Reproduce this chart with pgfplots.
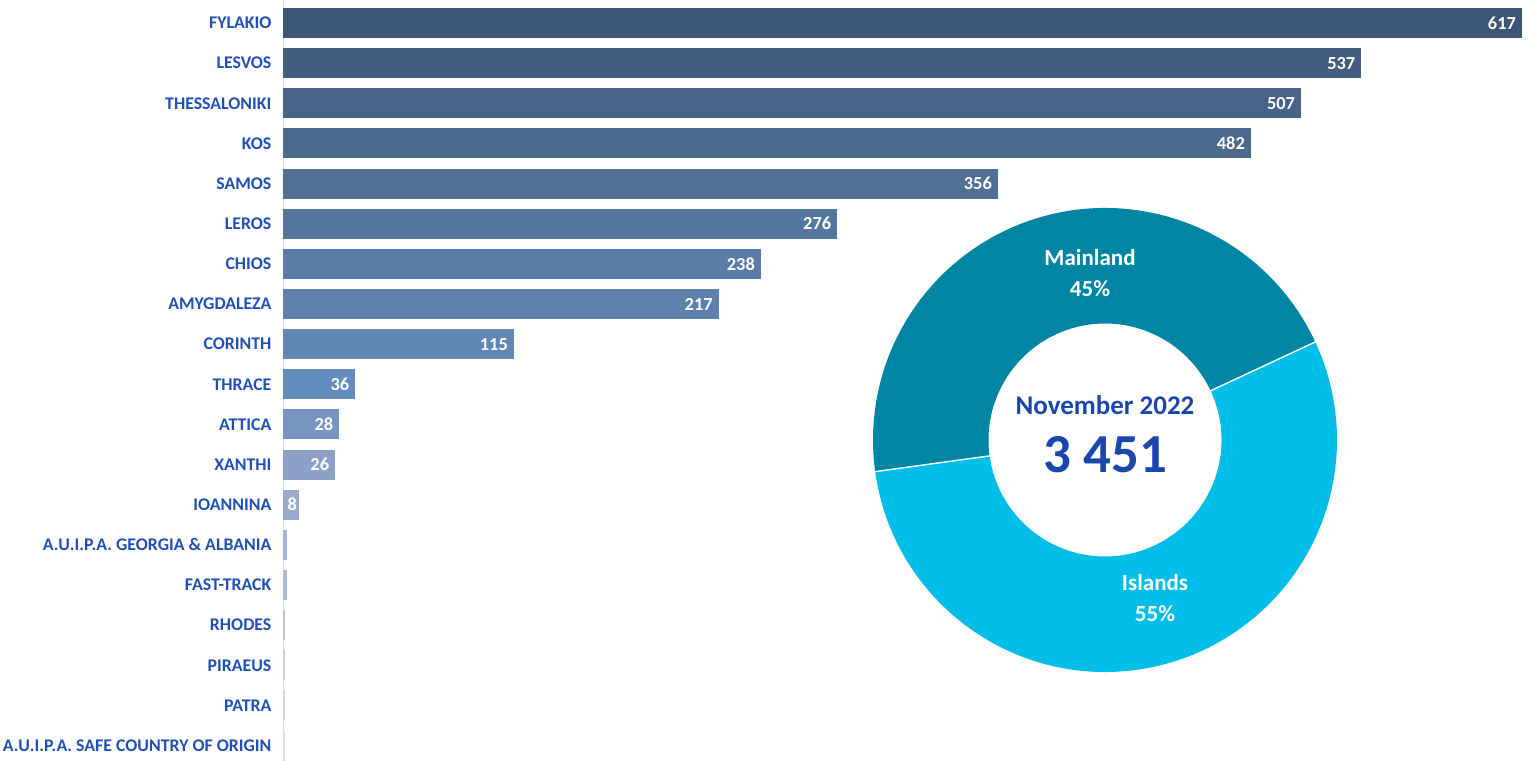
\documentclass[border=0pt]{standalone}
\usepackage{fontspec}
\setmainfont{Carlito}
\usepackage{pgfplots}
\pgfplotsset{compat=1.18}

\definecolor{lbl}{RGB}{33,80,180}
\definecolor{ctr}{RGB}{26,70,174}
\definecolor{mainland}{RGB}{0,134,164}
\definecolor{islands}{RGB}{0,190,232}
\definecolor{b1}{HTML}{3D5675}
\definecolor{b2}{HTML}{425D7E}
\definecolor{b3}{HTML}{486387}
\definecolor{b4}{HTML}{4C6A8E}
\definecolor{b5}{HTML}{517096}
\definecolor{b6}{HTML}{55779E}
\definecolor{b7}{HTML}{5A7DA6}
\definecolor{b8}{HTML}{5E82AD}
\definecolor{b9}{HTML}{6188B5}
\definecolor{b10}{HTML}{638DBD}
\definecolor{b11}{HTML}{7895C2}
\definecolor{b12}{HTML}{8CA1C7}
\definecolor{b13}{HTML}{9AAACD}
\definecolor{b14}{HTML}{A6B5D6}
\definecolor{b15}{HTML}{ADBBD9}
\definecolor{b16}{HTML}{B9C5DF}
\definecolor{b17}{HTML}{C5CFE5}
\definecolor{b18}{HTML}{CFD7EA}
\definecolor{b19}{HTML}{D8DFEE}

\begin{document}
\begin{tikzpicture}
\path[use as bounding box] (0,0) rectangle (764.5pt,380pt);
\begin{axis}[
    at={(141.5pt,0pt)}, anchor=south west,
    width=619.5pt, height=380pt, scale only axis,
    xbar, bar width=15pt, bar shift=0pt,
    xmin=0, xmax=617,
    ymin=-0.573, ymax=18.36, y dir=reverse,
    axis x line=none,
    axis y line*=left,
    y axis line style={draw=black!15},
    ytick={0,...,18},
    ytick style={draw=none},
    minor ytick={-0.5,0.5,...,18.5},
    minor tick length=4pt,
    minor tick style={draw=black!12},
    tick align=outside,
    yticklabels={FYLAKIO,LESVOS,THESSALONIKI,KOS,SAMOS,LEROS,CHIOS,AMYGDALEZA,CORINTH,THRACE,ATTICA,XANTHI,IOANNINA,A.U.I.P.A. GEORGIA \& ALBANIA,FAST-TRACK,RHODES,PIRAEUS,PATRA,A.U.I.P.A. SAFE COUNTRY OF ORIGIN},
    yticklabel style={font=\fontsize{8.9}{11}\selectfont\bfseries, text=lbl, xshift=2pt},
    /pgf/number format/assume math mode=true,
    nodes near coords align={horizontal},
    every node near coord/.append style={anchor=east, xshift=0.5pt, text=white, font=\fontsize{9.2}{11}\selectfont\bfseries},
  ]
  \addplot[fill=b1, draw=none, nodes near coords] coordinates {(617,0)};
  \addplot[fill=b2, draw=none, nodes near coords] coordinates {(537,1)};
  \addplot[fill=b3, draw=none, nodes near coords] coordinates {(507,2)};
  \addplot[fill=b4, draw=none, nodes near coords] coordinates {(482,3)};
  \addplot[fill=b5, draw=none, nodes near coords] coordinates {(356,4)};
  \addplot[fill=b6, draw=none, nodes near coords] coordinates {(276,5)};
  \addplot[fill=b7, draw=none, nodes near coords] coordinates {(238,6)};
  \addplot[fill=b8, draw=none, nodes near coords] coordinates {(217,7)};
  \addplot[fill=b9, draw=none, nodes near coords] coordinates {(115,8)};
  \addplot[fill=b10, draw=none, nodes near coords] coordinates {(36,9)};
  \addplot[fill=b11, draw=none, nodes near coords] coordinates {(28,10)};
  \addplot[fill=b12, draw=none, nodes near coords] coordinates {(26,11)};
  \addplot[fill=b13, draw=none, nodes near coords, every node near coord/.append style={xshift=2pt}] coordinates {(8,12)};
  \addplot[fill=b14, draw=none] coordinates {(2,13)};
  \addplot[fill=b15, draw=none] coordinates {(2,14)};
  \addplot[fill=b16, draw=none] coordinates {(1,15)};
  \addplot[fill=b17, draw=none] coordinates {(1,16)};
  \addplot[fill=b18, draw=none] coordinates {(1,17)};
  \addplot[fill=b19, draw=none] coordinates {(1,18)};
\end{axis}

% donut: Mainland 1561, Islands 1890 (sum of the bars above)
\pgfmathsetmacro{\angA}{25}
\pgfmathsetmacro{\angB}{\angA+360*(1561/(1561+1890))}
\pgfmathsetmacro{\angC}{\angA+360}
\begin{axis}[
    at={(552.5pt,160pt)}, anchor=center,
    width=232pt, height=232pt, scale only axis,
    xmin=-1, xmax=1, ymin=-1, ymax=1,
    hide axis, clip=false,
  ]
  \fill[mainland] (axis cs:0,0) ++(\angA:116pt) arc[start angle=\angA, end angle=\angB, radius=116pt]
    -- ([shift={(\angB:58.25pt)}]axis cs:0,0) arc[start angle=\angB, end angle=\angA, radius=58.25pt] -- cycle;
  \fill[islands] (axis cs:0,0) ++(\angB:116pt) arc[start angle=\angB, end angle=\angC, radius=116pt]
    -- ([shift={(\angC:58.25pt)}]axis cs:0,0) arc[start angle=\angC, end angle=\angB, radius=58.25pt] -- cycle;
  \draw[white, line width=0.7pt] ([shift={(\angA:58pt)}]axis cs:0,0) -- ([shift={(\angA:116.5pt)}]axis cs:0,0);
  \draw[white, line width=0.7pt] ([shift={(\angB:58pt)}]axis cs:0,0) -- ([shift={(\angB:116.5pt)}]axis cs:0,0);
  \node[white, align=center, font=\fontsize{11.5}{15.5}\selectfont\bfseries] at ([shift={(-7.5pt,83.25pt)}]axis cs:0,0) {Mainland\\45\%};
  \node[white, align=center, font=\fontsize{11.5}{15.5}\selectfont\bfseries] at ([shift={(25pt,-79.25pt)}]axis cs:0,0) {Islands\\55\%};
  \node[text=ctr, font=\fontsize{13.5}{16}\selectfont\bfseries] at ([shift={(0pt,17.5pt)}]axis cs:0,0) {November 2022};
  \node[text=ctr, font=\fontsize{27.5}{30}\selectfont\bfseries] at ([shift={(0pt,-7.5pt)}]axis cs:0,0) {3 451};
\end{axis}
\end{tikzpicture}
\end{document}
